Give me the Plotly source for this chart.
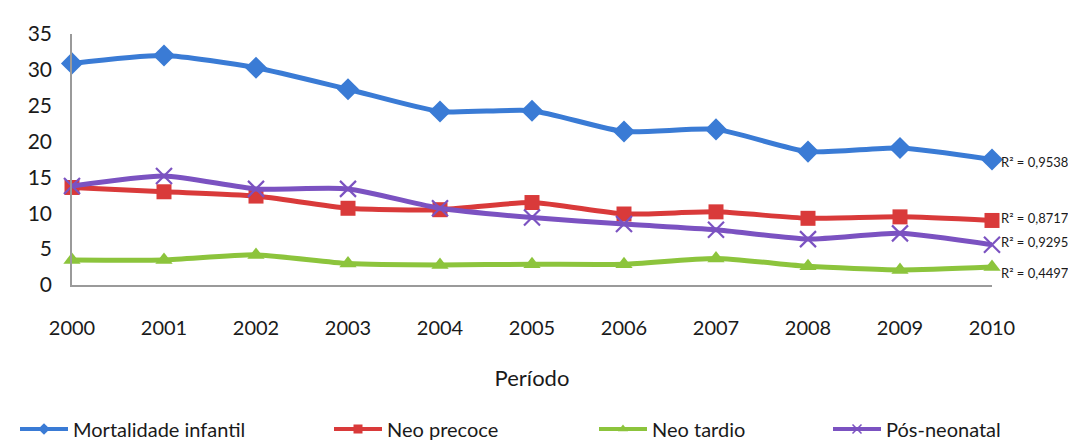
import plotly.graph_objects as go

years = [2000, 2001, 2002, 2003, 2004, 2005, 2006, 2007, 2008, 2009, 2010]
mortalidade = [30.9, 32.0, 30.3, 27.3, 24.2, 24.3, 21.4, 21.7, 18.6, 19.1, 17.5]
neo_precoce = [13.6, 13.0, 12.4, 10.7, 10.5, 11.5, 9.9, 10.2, 9.3, 9.5, 9.0]
neo_tardio = [3.5, 3.5, 4.2, 3.0, 2.8, 2.9, 2.9, 3.7, 2.6, 2.1, 2.5]
pos_neonatal = [13.8, 15.2, 13.4, 13.4, 10.7, 9.4, 8.5, 7.7, 6.4, 7.2, 5.6]
r2_mortalidade = "R² = 0,9538"
r2_neo_precoce = "R² = 0,8717"
r2_neo_tardio = "R² = 0,4497"
r2_pos_neonatal = "R² = 0,9295"
y_ticks = [0, 5, 10, 15, 20, 25, 30, 35]

FONT = "Lato"
TXT = "#1a1a1a"
series = [
    ("Mortalidade infantil", mortalidade, "#3A7BD5", "diamond", 17, r2_mortalidade, -2, "legend"),
    ("Neo precoce", neo_precoce, "#D93A3A", "square", 15, r2_neo_precoce, 2, "legend2"),
    ("Neo tardio", neo_tardio, "#8CC43C", "triangle-up", 15, r2_neo_tardio, -6, "legend3"),
    ("Pós-neonatal", pos_neonatal, "#7B52C1", "x-thin", 16, r2_pos_neonatal, 3, "legend4"),
]

fig = go.Figure()
for name, vals, color, sym, size, r2, ys, leg in series:
    marker = dict(symbol=sym, size=size, color=color)
    small = dict(symbol=sym, size=9, color=color)
    if sym == "x-thin":
        marker["line"] = dict(color=color, width=2.2)
        small["line"] = dict(color=color, width=1.5)
    fig.add_trace(go.Scatter(
        x=years, y=vals, name=name, mode="lines+markers",
        line=dict(color=color, width=5, shape="spline", smoothing=0.6),
        marker=marker, cliponaxis=False, showlegend=False,
    ))
    # legend-only entry with a small marker, as in the reference legend
    fig.add_trace(go.Scatter(
        x=[None], y=[None], name=name, mode="lines+markers",
        line=dict(color=color, width=4), marker=small, legend=leg, showlegend=True,
    ))
    fig.add_annotation(x=years[-1], y=vals[-1], text=r2, showarrow=False,
                       xanchor="left", xshift=7, yshift=ys,
                       font=dict(family=FONT, size=13, color=TXT))

leg_x = [7, 321, 586, 820]
legs = {}
for key, lx in zip(["legend", "legend2", "legend3", "legend4"], leg_x):
    legs[key] = dict(orientation="h", xref="container", yref="container",
                     x=lx / 1076, xanchor="left", y=1 - 421 / 440, yanchor="middle",
                     font=dict(family=FONT, size=20, color=TXT),
                     itemwidth=48, bgcolor="rgba(0,0,0,0)")

fig.update_layout(
    width=1076, height=440,
    margin=dict(l=64, r=92, t=18, b=163),
    paper_bgcolor="white", plot_bgcolor="white",
    font=dict(family=FONT, color=TXT),
    showlegend=True,
    **legs,
)
fig.update_xaxes(
    range=[2000, 2010], tickvals=years, ticktext=[str(y) for y in years],
    showgrid=False, zeroline=False, showline=True, linecolor="#9a9a9a", linewidth=1.5,
    ticks="", ticklabelstandoff=24,
    tickfont=dict(family=FONT, size=20, color=TXT),
    title=dict(text="Período", font=dict(family=FONT, size=22, color=TXT), standoff=33),
)
fig.update_yaxes(
    range=[0, 35], tickvals=y_ticks,
    showgrid=False, zeroline=False, showline=True, linecolor="#9a9a9a", linewidth=1.5,
    ticks="", ticklabelstandoff=14,
    tickfont=dict(family=FONT, size=21, color=TXT),
)

fig.write_html("out.html")
